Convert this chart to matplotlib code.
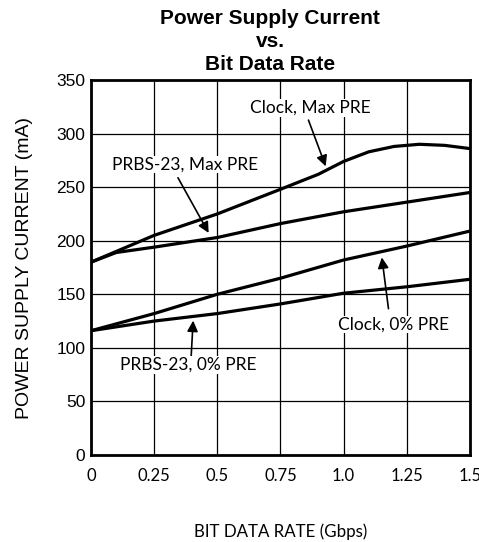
import matplotlib
matplotlib.use("Agg")
import matplotlib.pyplot as plt

# data
rate_clk_max = [0, 0.1, 0.25, 0.5, 0.75, 0.9, 1.0, 1.1, 1.2, 1.3, 1.4, 1.5]
clk_max = [180, 190, 205, 225, 248, 262, 274, 283, 288, 290, 289, 286]

rate_prbs_max = [0, 0.1, 0.25, 0.5, 0.75, 1.0, 1.25, 1.5]
prbs_max = [180, 189, 194, 203, 216, 227, 236, 245]

rate_clk_0 = [0, 0.25, 0.5, 0.75, 1.0, 1.25, 1.5]
clk_0 = [116, 132, 150, 165, 182, 195, 209]

rate_prbs_0 = [0, 0.25, 0.5, 0.75, 1.0, 1.25, 1.5]
prbs_0 = [116, 125, 132, 141, 151, 157, 164]

xticks = [0, 0.25, 0.5, 0.75, 1.0, 1.25, 1.5]
xtick_labels = ["0", "0.25", "0.5", "0.75", "1.0", "1.25", "1.5"]
yticks = [0, 50, 100, 150, 200, 250, 300, 350]

fig = plt.figure(figsize=(4.79, 5.42), dpi=100)
ax = fig.add_axes([0.19, 0.1605, 0.791, 0.6919])

for xs, ys in [(rate_clk_max, clk_max), (rate_prbs_max, prbs_max),
               (rate_clk_0, clk_0), (rate_prbs_0, prbs_0)]:
    ax.plot(xs, ys, c="black", lw=2.3, solid_capstyle="butt", zorder=3)

ax.set_xlim(0, 1.5)
ax.set_ylim(0, 350)
ax.set_xticks(xticks)
ax.set_xticklabels(xtick_labels, fontfamily="Lato", fontsize=12)
ax.set_yticks(yticks)
ax.set_yticklabels([str(v) for v in yticks], fontfamily="Liberation Sans", fontsize=12.5)
ax.tick_params(axis="x", length=0, pad=9)
ax.tick_params(axis="y", length=0, pad=4)
ax.grid(True, c="black", lw=0.9)
for s in ax.spines.values():
    s.set_linewidth(2)

ax.set_ylabel("POWER SUPPLY CURRENT (mA)", fontfamily="Liberation Sans", fontsize=14, labelpad=17)
ax.set_xlabel("BIT DATA RATE (Gbps)", fontfamily="Lato", fontsize=12.2, labelpad=29)

fig.text(0.564, 0.984, "Power Supply Current\nvs.\nBit Data Rate", ha="center", va="top",
         fontfamily="Liberation Sans", fontweight="bold", fontsize=15, linespacing=1.28)

# callouts
arrow = dict(arrowstyle="-|>", color="black", lw=1.2, mutation_scale=16)
notes = [
    ("Clock, Max PRE", (0.933, 267), (0.867, 324), (0.857, 315)),
    ("PRBS-23, Max PRE", (0.471, 205), (0.372, 271), (0.339, 261)),
    ("Clock, 0% PRE", (1.150, 187), (1.196, 122), (1.179, 134)),
    ("PRBS-23, 0% PRE", (0.405, 128), (0.385, 84), (0.396, 90)),
]
for label, tip, txt, tail in notes:
    ax.annotate("", xy=tip, xytext=tail, arrowprops=arrow, zorder=4)
    ax.text(txt[0], txt[1], label, ha="center", va="center", fontfamily="Lato",
            fontsize=12.5, zorder=5, bbox=dict(fc="white", ec="none", pad=0.5))

fig.savefig("out.png", dpi=100)
